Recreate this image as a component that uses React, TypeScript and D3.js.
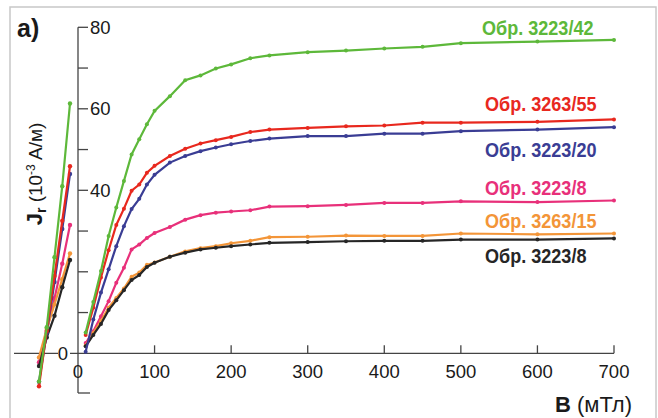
import React from "react";
import * as d3 from "d3";

const bValues = [10, 20, 30, 40, 50, 60, 70, 80, 90, 100, 120, 140, 160, 180, 200, 225, 250, 300, 350, 400, 450, 500, 600, 700];

const green = [5.1, 12.6, 20.2, 28.8, 35.8, 42.3, 48.8, 52.5, 56.2, 59.5, 63.1, 67.0, 68.2, 69.9, 70.9, 72.4, 73.1, 73.9, 74.3, 74.8, 75.2, 76.1, 76.5, 76.9];
const red = [4.5, 11.2, 18.6, 25.3, 31.5, 35.5, 39.9, 41.4, 44.3, 46.0, 48.4, 50.2, 51.5, 52.3, 53.1, 54.3, 54.9, 55.3, 55.7, 55.9, 56.6, 56.6, 56.8, 57.4];
const blue = [0.4, 8.3, 14.9, 20.6, 26.3, 31.2, 35.4, 37.9, 41.4, 43.8, 46.8, 48.4, 49.6, 50.5, 51.3, 52.1, 52.7, 53.3, 53.3, 53.9, 53.9, 54.5, 54.9, 55.5];
const pink = [2.5, 5.4, 9.1, 12.8, 17.3, 21.0, 25.5, 26.7, 28.3, 29.5, 31.0, 32.8, 33.9, 34.5, 34.8, 35.1, 36.0, 36.1, 36.4, 36.9, 36.9, 37.3, 37.1, 37.5];
const orange = [1.9, 5.0, 7.9, 11.2, 13.6, 15.9, 18.8, 19.8, 21.7, 22.3, 23.7, 25.0, 25.8, 26.3, 27.0, 27.6, 28.5, 28.6, 28.9, 28.8, 28.8, 29.4, 29.2, 29.4];
const black = [1.7, 4.5, 7.2, 10.6, 13.0, 15.5, 18.0, 19.2, 21.2, 22.2, 23.7, 24.7, 25.5, 25.9, 26.3, 26.7, 27.1, 27.3, 27.5, 27.6, 27.6, 27.9, 27.9, 28.2];

// inset (steep low-field part), arbitrary step index
const insetSteps = [0, 1, 2, 3, 4];
const insetGreen = [-6.9, 6.4, 23.6, 41.0, 61.3];
const insetRed = [-8.1, 5.5, 19.0, 32.5, 45.9];
const insetBlue = [-7.0, 5.0, 17.5, 30.5, 44.0];
const insetPink = [-2.2, 5.5, 13.5, 22.0, 31.5];
const insetOrange = [-1.0, 6.0, 12.0, 18.2, 24.5];
const insetBlack = [-3.1, 3.9, 9.2, 16.2, 22.9];

const seriesNames = ["Обр. 3223/8", "Обр. 3263/15", "Обр. 3223/8", "Обр. 3223/20", "Обр. 3263/55", "Обр. 3223/42"];
const seriesColors = ["#e8307a", "#f39538", "#262626", "#3a3d94", "#e8281e", "#5db83a"];
const seriesMain = [pink, orange, black, blue, red, green];
const seriesInset = [insetPink, insetOrange, insetBlack, insetBlue, insetRed, insetGreen];

const yTicksLabeled = [80, 60, 40];
const yTicksAll = [10, 20, 30, 40, 50, 60, 70, 80];
const xTicks = [100, 200, 300, 400, 500, 600, 700];

const labelOrder = [5, 4, 3, 0, 1, 2];

export default function App() {
  const W = 658, H = 418;
  const x = d3.scaleLinear().domain([0, 700]).range([78, 614]);
  const y = d3.scaleLinear().domain([0, 80]).range([353.3, 27.3]);
  const xi = d3.scaleLinear().domain([0, 4]).range([39, 70]);
  const font = "Arial, 'Liberation Sans', sans-serif";

  const lineMain = d3.line<number>().x((_, i) => x(bValues[i])).y((d) => y(d));
  const lineInset = d3.line<number>().x((_, i) => xi(insetSteps[i])).y((d) => y(d));

  const labelPos = [
    { x: 482, y: 35 },
    { x: 485, y: 111 },
    { x: 485, y: 157 },
    { x: 485, y: 195 },
    { x: 485, y: 228 },
    { x: 485, y: 263 },
  ];

  return (
    <svg width={W} height={H} style={{ position: "absolute", left: 0, top: 0, background: "#fff" }} fontFamily={font}>
      <rect x={10} y={7} width={646} height={420} fill="none" stroke="#c8c8c8" strokeWidth={1.5} />
      <text x={17} y={37} fontSize={25} fontWeight="bold" fill="#1a1a1a">a)</text>

      {/* axes */}
      <line x1={78} x2={78} y1={y(80)} y2={393} stroke="#444" strokeWidth={1.3} />
      <line x1={78} x2={90} y1={393} y2={393} stroke="#444" strokeWidth={1.3} />
      <line x1={70} x2={x(700)} y1={y(0)} y2={y(0)} stroke="#444" strokeWidth={1.3} />
      <line x1={14} x2={58} y1={y(0)} y2={y(0)} stroke="#444" strokeWidth={1.3} />
      {yTicksAll.map((t) => (
        <line key={"yt" + t} x1={78} x2={88} y1={y(t)} y2={y(t)} stroke="#444" strokeWidth={1.3} />
      ))}
      {yTicksLabeled.map((t) => (
        <text key={"yl" + t} x={90} y={y(t)} dy="0.36em" fontSize={18.5} fill="#1a1a1a">{t}</text>
      ))}
      <text x={63} y={y(0)} dy="0.36em" fontSize={18.5} fill="#1a1a1a" textAnchor="middle">0</text>
      {xTicks.map((t) => (
        <g key={"xt" + t}>
          <line x1={x(t)} x2={x(t)} y1={y(0)} y2={y(0) - 8} stroke="#444" strokeWidth={1.3} />
          <text x={x(t)} y={378} fontSize={18.5} textAnchor="middle" fill="#1a1a1a">{t}</text>
        </g>
      ))}
      <text x={x(0)} y={378} fontSize={18.5} textAnchor="middle" fill="#1a1a1a">0</text>

      <text x={632} y={412} fontSize={22} textAnchor="end" fill="#1a1a1a">
        <tspan fontWeight="bold">B</tspan>
        <tspan> (мТл)</tspan>
      </text>

      <text transform="translate(42,174) rotate(-90)" fontSize={19} textAnchor="middle" fill="#1a1a1a">
        <tspan fontWeight="bold" fontSize={22}>J</tspan>
        <tspan fontSize={14} fontWeight="bold" dy="4">r</tspan>
        <tspan dy="-4"> (10</tspan>
        <tspan fontSize={12} dy="-7">-3</tspan>
        <tspan dy="7"> A/м)</tspan>
      </text>

      {/* series */}
      {seriesMain.map((s, k) => (
        <g key={"s" + k}>
          <path d={lineMain(s) || ""} fill="none" stroke={seriesColors[k]} strokeWidth={2.2} />
          {s.map((v, i) => (
            <circle key={i} cx={x(bValues[i])} cy={y(v)} r={2} fill={seriesColors[k]} />
          ))}
          <path d={lineInset(seriesInset[k]) || ""} fill="none" stroke={seriesColors[k]} strokeWidth={2.2} />
          {seriesInset[k].map((v, i) => (
            <circle key={"i" + i} cx={xi(insetSteps[i])} cy={y(v)} r={2.2} fill={seriesColors[k]} />
          ))}
        </g>
      ))}

      {labelOrder.map((k, j) => (
        <text
          key={"lab" + j}
          transform={`translate(${labelPos[j].x},${labelPos[j].y}) scale(0.86,1)`}
          fontSize={21}
          fontWeight="bold"
          fill={seriesColors[k]}
        >
          {seriesNames[k]}
        </text>
      ))}
    </svg>
  );
}
